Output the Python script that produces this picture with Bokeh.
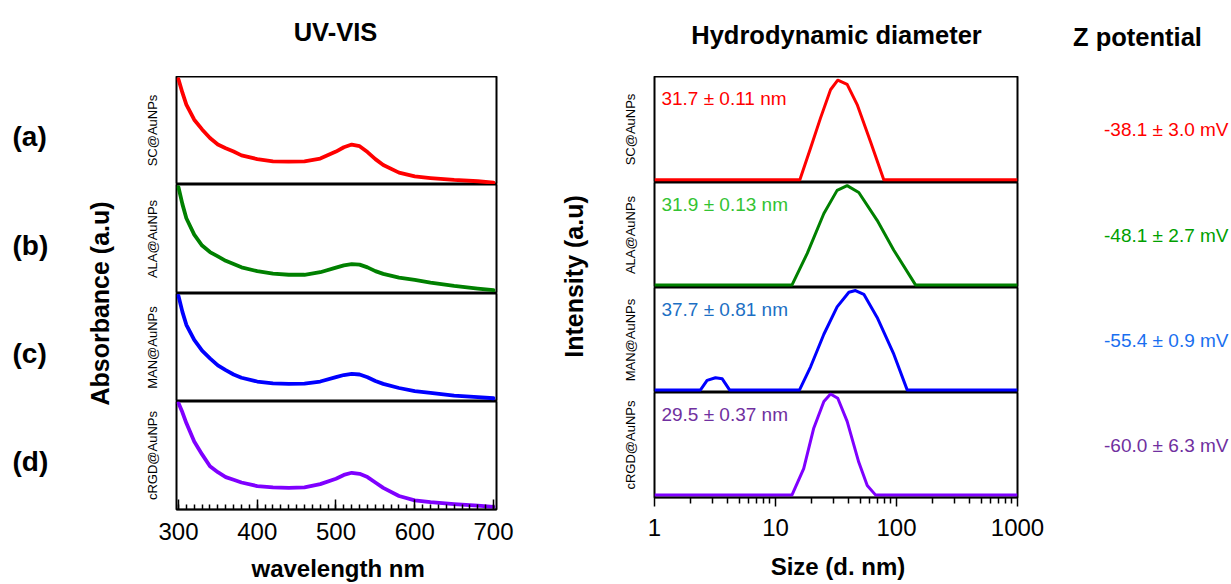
import numpy as np
from bokeh.plotting import figure
from bokeh.layouts import row, column
from bokeh.models import (Range1d, SingleIntervalTicker, FixedTicker,
                          NumeralTickFormatter, Label)
from bokeh.core.properties import value
from bokeh.embed import file_html
from bokeh.resources import INLINE

FONT = "Liberation Sans"

# ---------------------------------------------------------------- data
samples = ["SC@AuNPs", "ALA@AuNPs", "MAN@AuNPs", "cRGD@AuNPs"]
panel_tags = ["(a)", "(b)", "(c)", "(d)"]

# UV-VIS spectra (normalised absorbance)
wavelength = [300, 305, 310, 320, 330, 340, 350, 360, 370, 380, 400, 420, 440, 460,
              480, 500, 510, 520, 530, 540, 550, 560, 580, 600, 620, 650, 680, 700]
abs_sc = [0.975, 0.85, 0.74, 0.60, 0.51, 0.43, 0.37, 0.335, 0.305, 0.27, 0.235, 0.215, 0.212, 0.215,
          0.24, 0.305, 0.345, 0.37, 0.355, 0.30, 0.235, 0.18, 0.11, 0.075, 0.06, 0.042, 0.03, 0.017]
abs_ala = [0.975, 0.82, 0.69, 0.54, 0.44, 0.38, 0.34, 0.30, 0.27, 0.24, 0.205, 0.182, 0.172, 0.172,
           0.195, 0.237, 0.258, 0.27, 0.265, 0.24, 0.205, 0.18, 0.145, 0.125, 0.10, 0.07, 0.045, 0.03]
abs_man = [0.978, 0.83, 0.71, 0.57, 0.47, 0.40, 0.335, 0.29, 0.25, 0.22, 0.185, 0.168, 0.163, 0.166,
           0.185, 0.225, 0.245, 0.255, 0.25, 0.225, 0.19, 0.163, 0.125, 0.097, 0.08, 0.055, 0.04, 0.03]
abs_rgd = [0.985, 0.90, 0.80, 0.63, 0.51, 0.40, 0.345, 0.30, 0.275, 0.25, 0.217, 0.205, 0.20, 0.205,
           0.235, 0.285, 0.32, 0.34, 0.33, 0.30, 0.25, 0.20, 0.125, 0.085, 0.068, 0.05, 0.035, 0.025]
uv_absorbance = [abs_sc, abs_ala, abs_man, abs_rgd]

# DLS size distributions (normalised intensity)
size_sc = [1, 15.9, 19.5, 23.5, 28.5, 32.7, 39.1, 47.3, 61, 78.5, 1000]
int_sc = [0, 0, 0.30, 0.58, 0.85, 0.94, 0.90, 0.71, 0.36, 0, 0]
size_ala = [1, 13.7, 18.3, 25.1, 32.3, 39.1, 48.8, 69.2, 95, 143.6, 1000]
int_ala = [0, 0, 0.30, 0.68, 0.90, 0.945, 0.88, 0.615, 0.33, 0, 0]
size_man = [1, 2.40, 2.72, 3.19, 3.63, 4.17, 15.8, 19.5, 25.1, 32.3, 40.4, 45.8, 53.7, 69.2, 95, 122.5, 1000]
int_man = [0, 0, 0.09, 0.115, 0.105, 0, 0, 0.22, 0.53, 0.79, 0.93, 0.946, 0.91, 0.69, 0.34, 0, 0]
size_rgd = [1, 13.7, 17.1, 20.7, 25.1, 28.5, 32.7, 39.1, 48.8, 57.3, 67, 1000]
int_rgd = [0, 0, 0.25, 0.635, 0.89, 0.96, 0.92, 0.70, 0.31, 0.09, 0, 0]
dls_size = [size_sc, size_ala, size_man, size_rgd]
dls_intensity = [int_sc, int_ala, int_man, int_rgd]

z_average = ["31.7 ± 0.11 nm", "31.9 ± 0.13 nm", "37.7 ± 0.81 nm", "29.5 ± 0.37 nm"]
zeta = ["-38.1 ± 3.0 mV", "-48.1 ± 2.7 mV", "-55.4 ± 0.9 mV", "-60.0 ± 6.3 mV"]

uv_ticks = [300, 400, 500, 600, 700]
dls_ticks = [1, 10, 100, 1000]

# ---------------------------------------------------------------- styles
curve_colors = ["#ff0000", "#008000", "#0000ff", "#7f00ff"]
size_text_colors = ["#ff0000", "#33c333", "#1c6fc4", "#7030a0"]
zeta_colors = ["#ff0000", "#00a000", "#1a6ff0", "#7030a0"]

W = 1231
TOP = 76
BODY = 584 - TOP
LEFT_W, UV_W, MID_W, DLS_W = 130, 390, 80, 457
RIGHT_W = W - LEFT_W - UV_W - MID_W - DLS_W
UV_HEIGHTS = [108, 109, 108, 108]
UV_TICK_BORDER = 45
UV_LABEL_H = BODY - sum(UV_HEIGHTS) - UV_TICK_BORDER
DLS_HEIGHTS = [106, 105, 105, 105]
DLS_TICK_BORDER = 52
DLS_LABEL_H = BODY - sum(DLS_HEIGHTS) - DLS_TICK_BORDER


def text_strip(w, h):
    p = figure(width=w, height=h, x_range=Range1d(0, w), y_range=Range1d(h, 0),
               toolbar_location=None, output_backend="svg", min_border=0,
               x_axis_location=None, y_axis_location=None)
    p.outline_line_color = None
    p.grid.visible = False
    p.background_fill_color = "white"
    return p


def style_name_axis(p, name):
    ax = p.yaxis[0]
    ax.ticker = FixedTicker(ticks=[])
    ax.axis_line_color = None
    ax.major_tick_line_color = None
    ax.minor_tick_line_color = None
    ax.major_tick_out = 0
    ax.major_tick_in = 0
    ax.minor_tick_out = 0
    ax.minor_tick_in = 0
    ax.major_label_text_font_size = "0px"
    ax.major_label_standoff = 0
    ax.axis_label = name
    ax.axis_label_standoff = 17
    ax.axis_label_text_font = FONT
    ax.axis_label_text_font_size = "13px"
    ax.axis_label_text_font_style = "normal"
    ax.axis_label_text_color = "black"


def style_panel(p):
    p.grid.visible = False
    p.outline_line_color = "black"
    p.outline_line_width = 2
    p.outline_line_alpha = 1.0
    p.background_fill_color = "white"
    p.border_fill_color = "white"


def style_bottom_axis(ax):
    ax.axis_line_color = "black"
    ax.axis_line_width = 1.5
    ax.major_tick_line_color = "black"
    ax.minor_tick_line_color = "black"
    ax.major_tick_line_width = 1.5
    ax.minor_tick_line_width = 1.5
    ax.major_label_text_font = FONT
    ax.major_label_text_font_size = "24px"
    ax.major_label_text_color = "black"


# ---------------------------------------------------------------- UV-VIS column
uv_panels = []
for i, name in enumerate(samples):
    last = i == len(samples) - 1
    p = figure(width=UV_W, height=UV_HEIGHTS[i] + (UV_TICK_BORDER if last else 0),
               x_range=Range1d(297.5, 703.8), y_range=Range1d(0, 1),
               x_axis_location="below" if last else None, y_axis_location="left",
               toolbar_location=None, output_backend="svg",
               min_border_left=46, min_border_right=24, min_border_top=0,
               min_border_bottom=UV_TICK_BORDER if last else 0)
    style_panel(p)
    style_name_axis(p, name)
    p.line(wavelength, uv_absorbance[i], line_color=curve_colors[i], line_width=3.8,
           line_join="round", line_cap="round")
    if last:
        ax = p.xaxis[0]
        ax.ticker = SingleIntervalTicker(interval=100, num_minor_ticks=10)
        style_bottom_axis(ax)
        ax.major_tick_in = 10
        ax.major_tick_out = 0
        ax.minor_tick_in = 5
        ax.minor_tick_out = 0
        ax.major_label_standoff = 13
    uv_panels.append(p)

uv_xlabel = text_strip(UV_W, UV_LABEL_H)
uv_xlabel.text(x=[197], y=[14], text=["wavelength nm"],
               text_font=value(FONT), text_font_size="24px", text_font_style="bold",
               text_align="center", text_baseline="middle", text_color="black")

# ---------------------------------------------------------------- DLS column
dls_panels = []
minor = [m * d for d in dls_ticks[:-1] for m in range(2, 10)]
for i, name in enumerate(samples):
    last = i == len(samples) - 1
    p = figure(width=DLS_W, height=DLS_HEIGHTS[i] + (DLS_TICK_BORDER if last else 0),
               x_range=Range1d(1, 1000), y_range=Range1d(-0.025, 0.975),
               x_axis_type="log",
               x_axis_location="below" if last else None, y_axis_location="left",
               toolbar_location=None, output_backend="svg",
               min_border_left=54, min_border_right=40, min_border_top=0,
               min_border_bottom=DLS_TICK_BORDER if last else 0)
    style_panel(p)
    style_name_axis(p, name)
    p.line(dls_size[i], dls_intensity[i], line_color=curve_colors[i], line_width=3,
           line_join="round")
    p.add_layout(Label(x=1.14, y=0.77, text=z_average[i], text_font=FONT,
                       text_font_size="19px", text_baseline="middle",
                       text_color=size_text_colors[i]))
    if last:
        ax = p.xaxis[0]
        ax.ticker = FixedTicker(ticks=dls_ticks, minor_ticks=minor)
        ax.formatter = NumeralTickFormatter(format="0")
        style_bottom_axis(ax)
        ax.major_tick_in = 0
        ax.major_tick_out = 9
        ax.minor_tick_in = 0
        ax.minor_tick_out = 6
        ax.major_label_standoff = 12
    dls_panels.append(p)

dls_xlabel = text_strip(DLS_W, DLS_LABEL_H)
dls_xlabel.text(x=[231], y=[17], text=["Size (d. nm)"],
                text_font=value(FONT), text_font_size="24px", text_font_style="bold",
                text_align="center", text_baseline="middle", text_color="black")

# ---------------------------------------------------------------- text strips
top = text_strip(W, TOP)
top.text(x=[335, 836, 1137], y=[31, 34, 36],
         text=["UV-VIS", "Hydrodynamic diameter", "Z potential"],
         text_font=value(FONT), text_font_size="25.5px", text_font_style="bold",
         text_align="center", text_baseline="middle", text_color="black")

uv_centres = [sum(UV_HEIGHTS[:i]) + UV_HEIGHTS[i] / 2 for i in range(4)]
dls_centres = [sum(DLS_HEIGHTS[:i]) + DLS_HEIGHTS[i] / 2 for i in range(4)]

left = text_strip(LEFT_W, BODY)
left.text(x=[12] * 4, y=[c + 6 for c in uv_centres], text=panel_tags,
          text_font=value(FONT), text_font_size="28px", text_font_style="bold",
          text_align="left", text_baseline="middle", text_color="black")
left.text(x=[99], y=[227], text=["Absorbance (a.u)"], angle=np.pi / 2,
          text_font=value(FONT), text_font_size="25px", text_font_style="bold",
          text_align="center", text_baseline="middle", text_color="black")

mid = text_strip(MID_W, BODY)
mid.text(x=[53], y=[200], text=["Intensity (a.u)"], angle=np.pi / 2,
         text_font=value(FONT), text_font_size="25px", text_font_style="bold",
         text_align="center", text_baseline="middle", text_color="black")

right = text_strip(RIGHT_W, BODY)
right.text(x=[RIGHT_W - 3] * 4, y=dls_centres, text=zeta,
           text_font=value(FONT), text_font_size="19px",
           text_align="right", text_baseline="middle", text_color=zeta_colors)

layout = column(top,
                row(left, column(*uv_panels, uv_xlabel, spacing=0), mid,
                    column(*dls_panels, dls_xlabel, spacing=0), right, spacing=0),
                spacing=0)

open("out.html", "w").write(file_html(layout, INLINE))
